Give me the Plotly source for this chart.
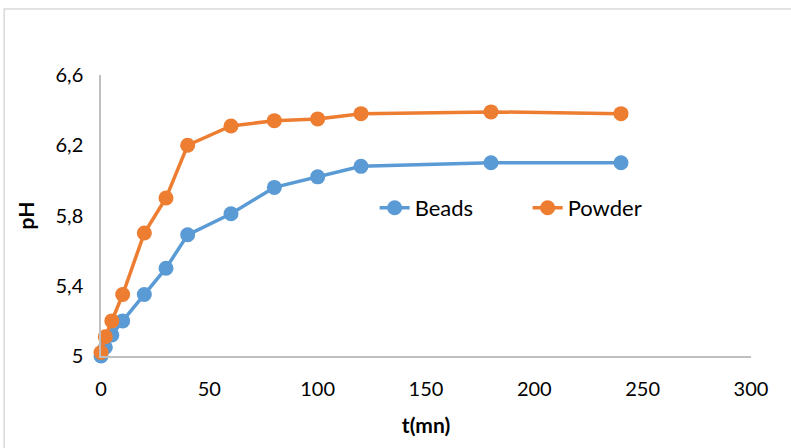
import plotly.graph_objects as go

t_min = [0, 2, 5, 10, 20, 30, 40, 60, 80, 100, 120, 180, 240]
beads_ph = [5.0, 5.05, 5.12, 5.2, 5.35, 5.5, 5.69, 5.81, 5.96, 6.02, 6.08, 6.1, 6.1]
powder_ph = [5.02, 5.11, 5.2, 5.35, 5.7, 5.9, 6.2, 6.31, 6.34, 6.35, 6.38, 6.39, 6.38]

x_ticks = [0, 50, 100, 150, 200, 250, 300]
y_ticks = [5.0, 5.4, 5.8, 6.2, 6.6]
y_tick_labels = ["5", "5,4", "5,8", "6,2", "6,6"]

font_family = "Lato, Open Sans, sans-serif"

fig = go.Figure()
fig.add_trace(go.Scatter(
    x=t_min, y=beads_ph, name="Beads", mode="lines+markers",
    line=dict(color="#5B9BD5", width=3.5),
    marker=dict(color="#5B9BD5", size=15),
    cliponaxis=False,
))
fig.add_trace(go.Scatter(
    x=t_min, y=powder_ph, name="Powder", mode="lines+markers",
    line=dict(color="#ED7D31", width=3.5),
    marker=dict(color="#ED7D31", size=15),
    cliponaxis=False,
))

fig.update_layout(
    width=791, height=448,
    margin=dict(l=101, r=40, t=75, b=92),
    paper_bgcolor="white", plot_bgcolor="white",
    font=dict(family=font_family, size=20, color="#000000"),
    showlegend=True,
    legend=dict(orientation="h", x=0.421, y=0.527, xanchor="left", yanchor="middle",
                font=dict(size=22), bgcolor="rgba(0,0,0,0)",
                entrywidth=108, entrywidthmode="pixels"),
    shapes=[dict(type="rect", xref="paper", yref="paper",
                 x0=-0.149, x1=1.2, y0=-0.5, y1=1.235,
                 line=dict(color="#D9D9D9", width=1.5), layer="below")],
)

fig.update_xaxes(
    range=[0, 300], tickvals=x_ticks, showgrid=False, zeroline=False,
    showline=True, linecolor="#BFBFBF", linewidth=1.5, ticks="",
    ticklabelstandoff=14,
    title=dict(text="<b>t(mn)</b>", font=dict(size=21), standoff=20),
)
fig.update_yaxes(
    range=[5.0, 6.6], tickvals=y_ticks, ticktext=y_tick_labels, showgrid=False,
    zeroline=False, showline=True, linecolor="#BFBFBF", linewidth=1.5, ticks="",
    ticklabelstandoff=12,
    title=dict(text="<b>pH</b>", font=dict(size=21), standoff=15),
)

fig.write_html("out.html", config={"displayModeBar": False},
               post_script="document.body.style.margin='0px';")
